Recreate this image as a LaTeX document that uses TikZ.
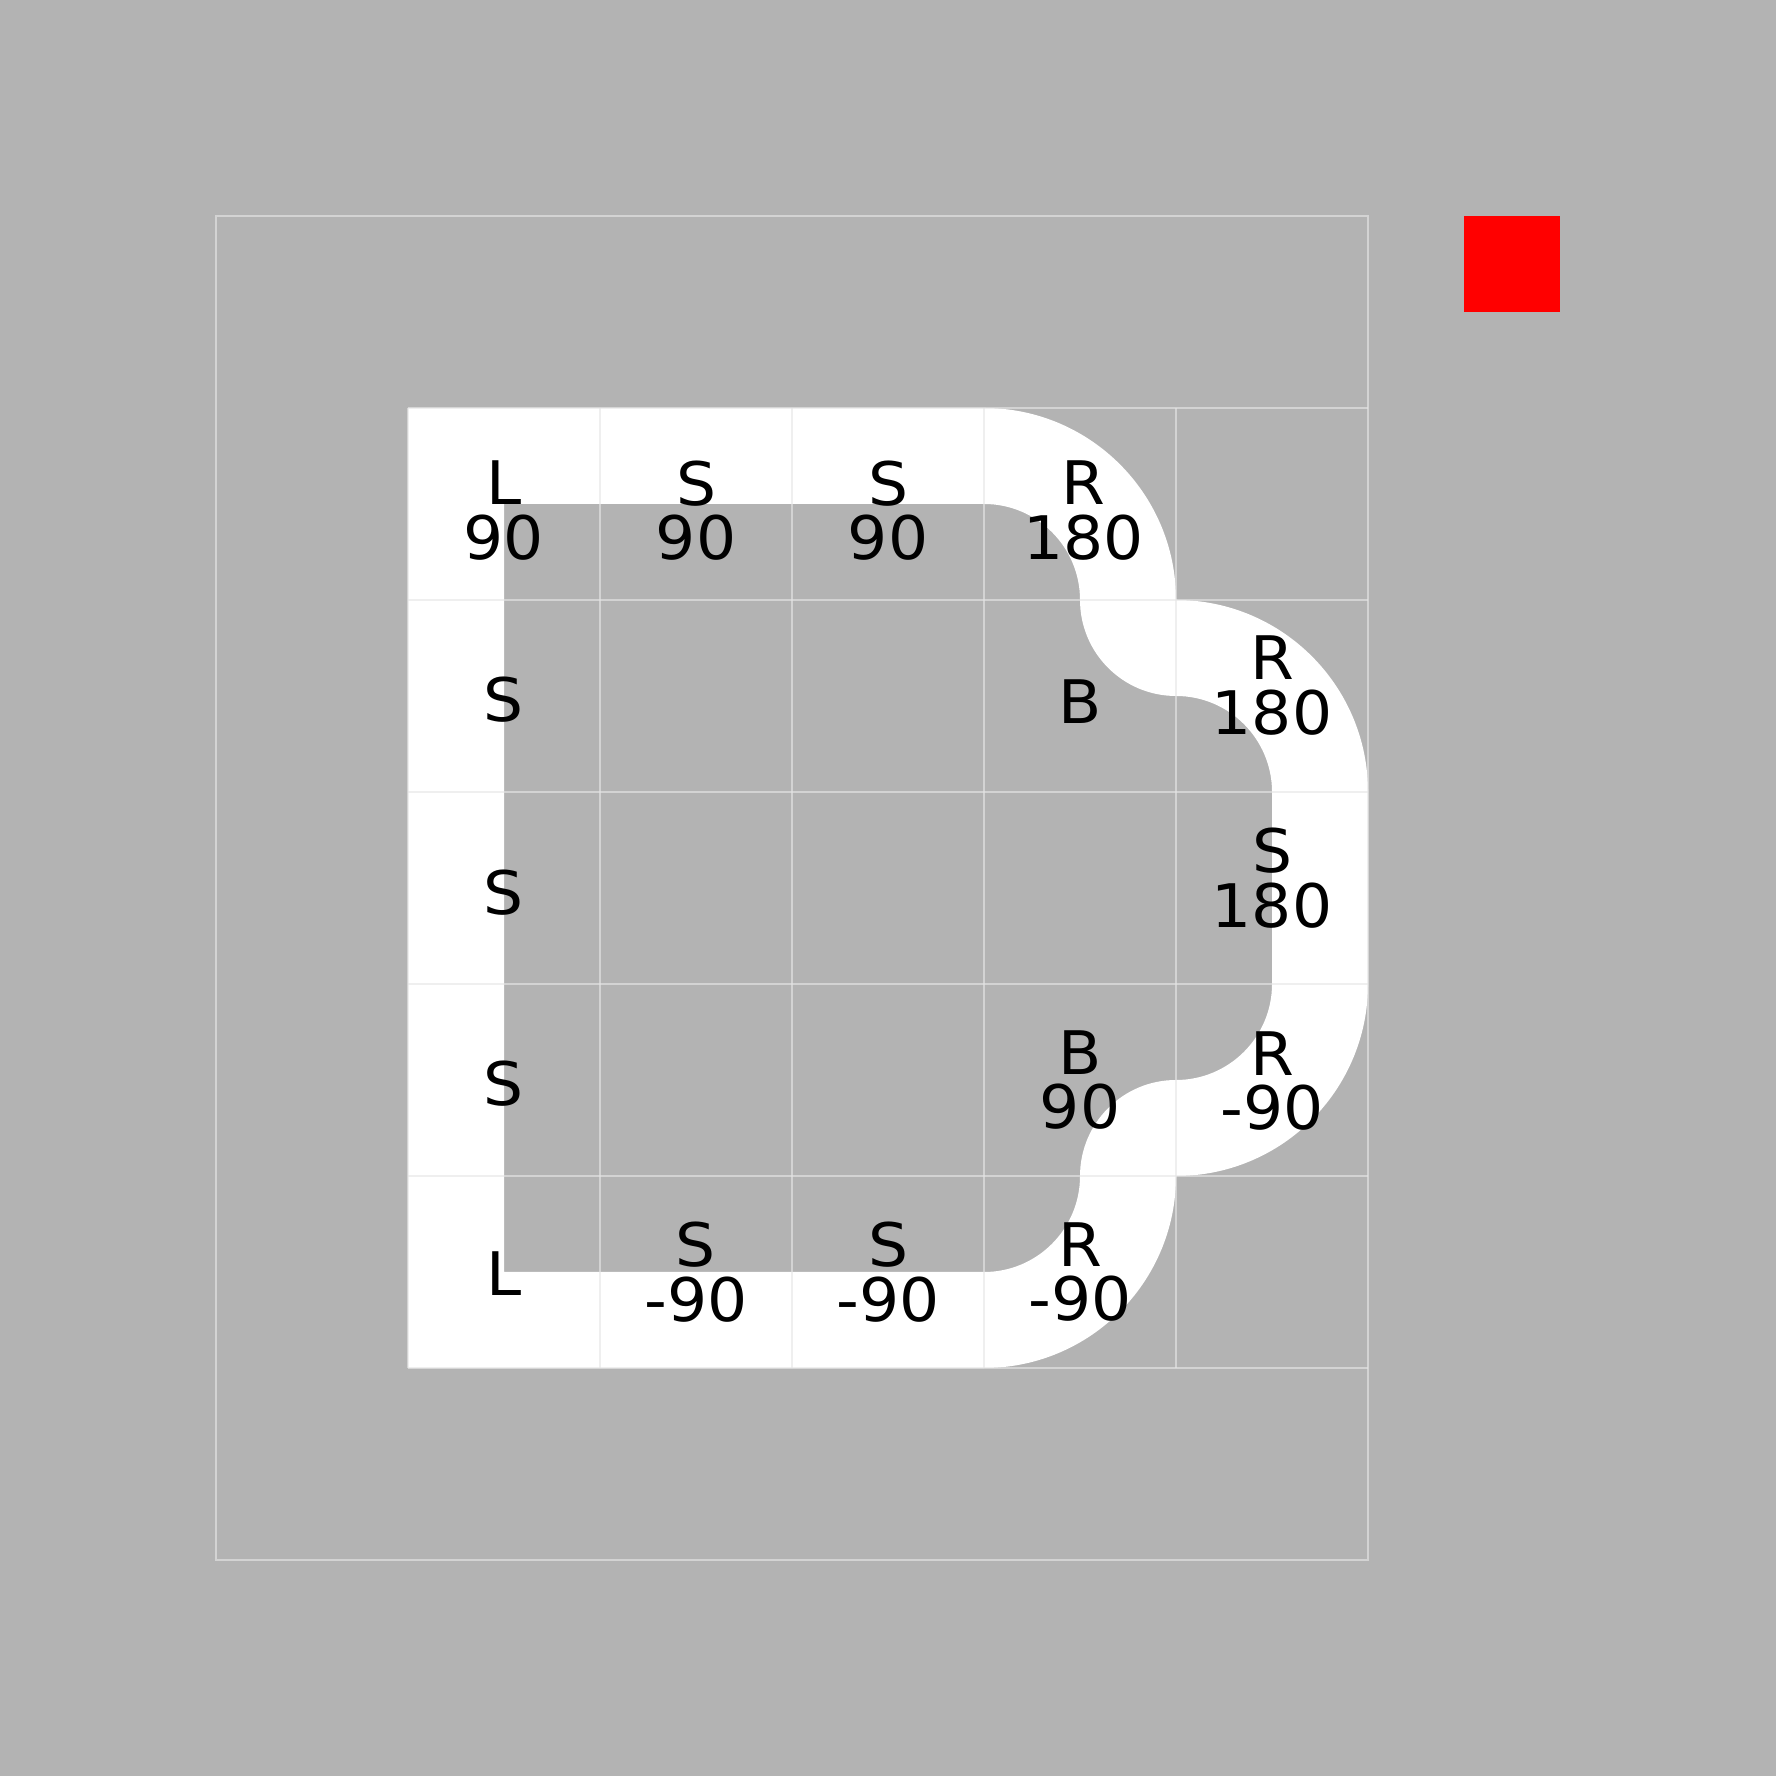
\documentclass[tikz,border=0pt]{standalone}
\usepackage{fontspec}
\setmainfont{DejaVu Sans}[FakeStretch=1.05]
\definecolor{bg}{RGB}{179,179,179}
\definecolor{gridc}{RGB}{230,230,230}
\begin{document}
\begin{tikzpicture}[x=1cm,y=1cm,
  lbl/.style={font=\fontsize{8.9pt}{8.1pt}\selectfont, align=center, inner sep=0pt, text=black},
  gridline/.style={draw=gridc, draw opacity=0.63, line width=0.25pt},
  track/.style={fill=white, even odd rule}
]
\useasboundingbox (-2.125,2.125) rectangle (7.125,-7.125);
\fill[bg] (-2.125,2.125) rectangle (7.125,-7.125);
% track
\path[track] (0,0) -- (3,0) arc[start angle=90,end angle=0,radius=1]
  arc[start angle=90,end angle=0,radius=1] -- (5,-3)
  arc[start angle=0,end angle=-90,radius=1]
  arc[start angle=0,end angle=-90,radius=1] -- (0,-5) -- cycle
  (0.5,-0.5) -- (3,-0.5) arc[start angle=90,end angle=0,radius=0.5]
  arc[start angle=180,end angle=270,radius=0.5]
  arc[start angle=90,end angle=0,radius=0.5] -- (4.5,-3)
  arc[start angle=0,end angle=-90,radius=0.5]
  arc[start angle=90,end angle=180,radius=0.5]
  arc[start angle=0,end angle=-90,radius=0.5] -- (0.5,-4.5) -- cycle;
% grid
\foreach \i in {0,...,4} {\draw[gridline] (\i,0) -- (\i,-5);}
\foreach \i in {0,...,5} {\draw[gridline] (0,-\i) -- (5,-\i);}
\draw[gridline] (-1,1) rectangle (5,-6);
% red square
\fill[red] (5.5,0.5) rectangle (6,1);
% labels
\node[lbl] (n00) at (0.5,-0.535) {L\\90};
\node[lbl] (n10) at (1.5,-0.535) {S\\90};
\node[lbl] (n20) at (2.5,-0.535) {S\\90};
\node[lbl] (n30) at (3.52,-0.535) {R\\180};
\node[lbl] (n01) at (0.5,-1.52) {S};
\node[lbl] (n31) at (3.5,-1.53) {B};
\node[lbl] (n41) at (4.5,-1.445) {R\\180};
\node[lbl] (n02) at (0.5,-2.525) {S};
\node[lbl] (n42) at (4.5,-2.45) {S\\180};
\node[lbl] (n03) at (0.5,-3.52) {S};
\node[lbl] (n33) at (3.5,-3.5) {B\\90};
\node[lbl] (n43) at (4.5,-3.505) {R\\-90};
\node[lbl] (n04) at (0.5,-4.51) {L};
\node[lbl] (n14) at (1.5,-4.5) {S\\-90};
\node[lbl] (n24) at (2.5,-4.5) {S\\-90};
\node[lbl] (n34) at (3.5,-4.5) {R\\-90};
\end{tikzpicture}
\end{document}
